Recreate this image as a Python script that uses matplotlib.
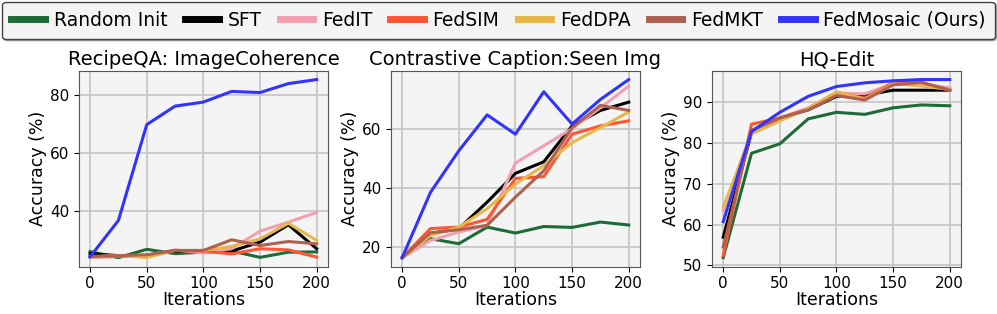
import numpy as np
import matplotlib.pyplot as plt
from matplotlib.lines import Line2D

# iterations on x axis
iters = [0, 25, 50, 75, 100, 125, 150, 175, 200]

methods = ["Random Init", "SFT", "FedIT", "FedSIM", "FedDPA", "FedMKT", "FedMosaic (Ours)"]
colors = ["#1d6b36", "#000000", "#f2a0b1", "#ff5533", "#e6b84a", "#b06050", "#3333ff"]

titles = ["RecipeQA: ImageCoherence", "Contrastive Caption:Seen Img", "HQ-Edit"]

# RecipeQA: ImageCoherence
recipe_random = [25.8, 23.7, 26.6, 25.1, 25.6, 26.0, 23.8, 25.6, 25.7]
recipe_sft = [25.1, 24.4, 24.5, 26.0, 26.2, 26.0, 29.1, 35.1, 26.8]
recipe_fedit = [24.1, 24.2, 24.5, 26.4, 25.3, 26.8, 32.9, 36.0, 39.4]
recipe_fedsim = [23.9, 24.1, 24.5, 26.2, 26.0, 25.0, 26.8, 26.4, 23.9]
recipe_feddpa = [23.9, 24.5, 23.7, 26.2, 26.2, 27.6, 30.2, 35.6, 29.7]
recipe_fedmkt = [24.1, 24.4, 24.7, 26.2, 26.2, 29.9, 27.9, 29.3, 28.5]
recipe_mosaic = [24.0, 36.6, 69.8, 76.2, 77.6, 81.3, 80.9, 84.0, 85.4]

# Contrastive Caption: Seen Img
cc_random = [16.5, 22.9, 21.2, 26.8, 24.8, 27.0, 26.7, 28.5, 27.5]
cc_sft = [16.5, 24.6, 26.3, 35.2, 44.9, 48.8, 60.9, 66.1, 68.9]
cc_fedit = [16.5, 22.3, 25.1, 27.4, 48.4, 54.2, 60.0, 67.0, 74.3]
cc_fedsim = [16.5, 26.3, 26.8, 29.4, 43.2, 43.8, 58.1, 60.9, 62.6]
cc_feddpa = [16.5, 24.0, 26.8, 33.0, 41.3, 47.5, 55.3, 60.3, 65.6]
cc_fedmkt = [16.5, 24.9, 25.9, 27.4, 36.9, 45.8, 60.3, 67.8, 66.1]
cc_mosaic = [16.5, 38.5, 52.5, 64.6, 58.1, 72.4, 61.5, 69.8, 76.5]

# HQ-Edit
hq_random = [51.9, 77.4, 79.7, 85.8, 87.4, 86.9, 88.5, 89.2, 89.0]
hq_sft = [56.9, 82.4, 86.0, 88.0, 91.3, 91.6, 92.8, 92.8, 92.8]
hq_fedit = [63.4, 82.6, 86.0, 88.5, 92.1, 91.9, 94.4, 94.3, 93.4]
hq_fedsim = [52.4, 84.5, 86.0, 88.2, 92.3, 90.8, 94.7, 94.7, 92.8]
hq_feddpa = [64.2, 82.1, 85.3, 88.3, 92.4, 90.6, 94.4, 93.8, 93.0]
hq_fedmkt = [54.5, 83.0, 86.0, 88.0, 91.5, 90.4, 94.1, 94.7, 92.8]
hq_mosaic = [60.7, 82.7, 87.4, 91.3, 93.7, 94.6, 95.1, 95.4, 95.4]

panels = [
    [recipe_random, recipe_sft, recipe_fedit, recipe_fedsim, recipe_feddpa, recipe_fedmkt, recipe_mosaic],
    [cc_random, cc_sft, cc_fedit, cc_fedsim, cc_feddpa, cc_fedmkt, cc_mosaic],
    [hq_random, hq_sft, hq_fedit, hq_fedsim, hq_feddpa, hq_fedmkt, hq_mosaic],
]

fig = plt.figure(figsize=(9.97, 3.14), dpi=100)
lefts = [0.079, 0.392, 0.714]
for i in range(3):
    ax = fig.add_axes([lefts[i], 0.151, 0.25, 0.624])
    ax.set_facecolor("#f4f4f4")
    ax.grid(True, color="#c4c4c4", linewidth=1.2)
    ax.set_axisbelow(True)
    for j, vals in enumerate(panels[i]):
        ax.plot(iters, vals, color=colors[j], linewidth=2.2)
    ax.set_title(titles[i], fontsize=14, pad=4)
    ax.set_xlabel("Iterations", fontsize=12.5, labelpad=0)
    ax.set_ylabel("Accuracy (%)", fontsize=12.5, labelpad=2)
    ax.set_xticks([0, 50, 100, 150, 200])
    ax.tick_params(labelsize=11)
    for s in ax.spines.values():
        s.set_color("#555555")

handles = [Line2D([0], [0], color=c, linewidth=5) for c in colors]
leg = fig.legend(handles, methods, loc="upper left", ncol=7, fontsize=13.5,
                 bbox_to_anchor=(0.002, 0.995, 0.996, 0.0), mode="expand",
                 borderaxespad=0, handlelength=1.8, handletextpad=0.45,
                 columnspacing=0.9, fancybox=True, borderpad=0.5,
                 shadow={"ox": 1, "oy": -1, "color": "0.5", "alpha": 0.6})
leg.get_frame().set_facecolor("#f4f4f4")
leg.get_frame().set_edgecolor("#444444")
leg.get_frame().set_alpha(1)

plt.savefig("out.png", dpi=100)
